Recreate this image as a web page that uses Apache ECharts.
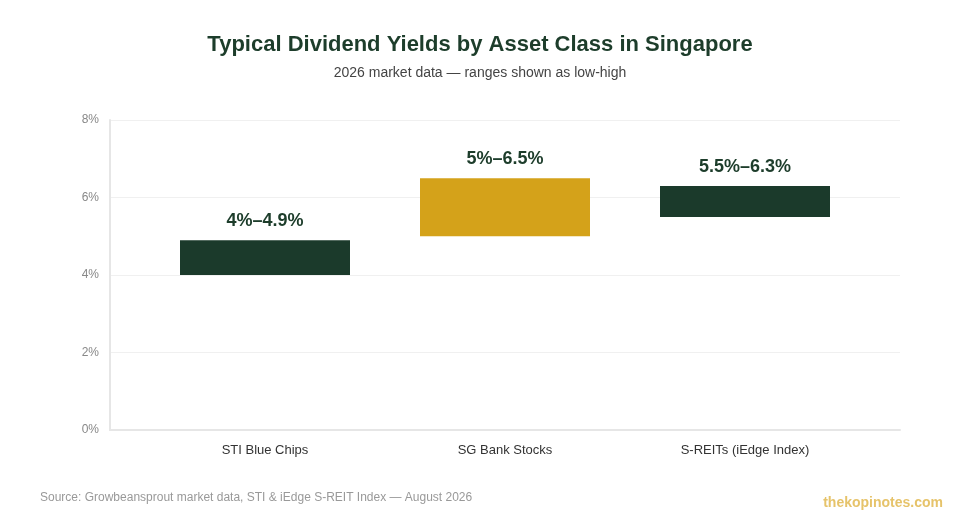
<!DOCTYPE html>
<html><head><meta charset="utf-8">
<script src="https://cdn.jsdelivr.net/npm/echarts@6/dist/echarts.min.js"></script>
<style>html,body{margin:0;padding:0;background:#fff}#c{width:960px;height:520px}</style>
</head><body><div id="c"></div>
<script>
var categories = ['STI Blue Chips', 'SG Bank Stocks', 'S-REITs (iEdge Index)'];
var lows = [4, 5, 5.5];
var highs = [4.9, 6.5, 6.3];
var labels = ['4%\u20134.9%', '5%\u20136.5%', '5.5%\u20136.3%'];
var barColors = ['#1b3a2b', '#d4a21a', '#1b3a2b'];
var yTicks = [0, 2, 4, 6, 8];

var chart = echarts.init(document.getElementById('c'), null, {renderer: 'canvas'});
var font = 'Liberation Sans, Arial, Helvetica, sans-serif';
chart.setOption({
  backgroundColor: '#fff',
  textStyle: {fontFamily: font},
  title: [
    {text: 'Typical Dividend Yields by Asset Class in Singapore', left: 'center', top: 29,
     textStyle: {fontSize: 22, fontWeight: 'bold', color: '#1d3d2b', fontFamily: font}},
    {text: '2026 market data \u2014 ranges shown as low-high', left: 'center', top: 61,
     textStyle: {fontSize: 14, fontWeight: 'normal', color: '#444', fontFamily: font}},
    {text: 'Source: Growbeansprout market data, STI & iEdge S-REIT Index \u2014 August 2026', left: 35, top: 487,
     textStyle: {fontSize: 12, fontWeight: 'normal', color: '#999', fontFamily: font}},
    {text: 'thekopinotes.com', right: 12, top: 491,
     textStyle: {fontSize: 14, fontWeight: 'bold', color: '#e6c36a', fontFamily: font}}
  ],
  grid: [
    {left: 110, right: 60, top: 120, bottom: 90},
    {left: 145, right: 95, top: 120, bottom: 90}
  ],
  xAxis: [
    {type: 'value', gridIndex: 0, min: 0, max: 1, axisLabel: {show: false}, splitLine: {show: false},
     axisTick: {show: false}, axisLine: {show: true, lineStyle: {color: '#e6e6e6', width: 2}}},
    {type: 'category', gridIndex: 1, data: categories, axisLine: {show: false}, axisTick: {show: false},
     axisLabel: {color: '#333', fontSize: 13, margin: 14, fontFamily: font}}
  ],
  yAxis: [
    {type: 'value', gridIndex: 0, min: yTicks[0], max: yTicks[yTicks.length - 1], interval: 2,
     axisLine: {show: true, lineStyle: {color: '#e6e6e6', width: 2}}, axisTick: {show: false},
     axisLabel: {color: '#888', fontSize: 12, margin: 11, formatter: '{value}%', fontFamily: font},
     splitLine: {show: true, lineStyle: {color: '#f0f0f0', width: 1}}},
    {type: 'value', gridIndex: 1, min: yTicks[0], max: yTicks[yTicks.length - 1], interval: 2,
     show: false, splitLine: {show: false}}
  ],
  series: [
    {type: 'bar', xAxisIndex: 1, yAxisIndex: 1, stack: 'r', barWidth: 170, silent: true,
     itemStyle: {color: 'transparent'}, data: lows},
    {type: 'bar', xAxisIndex: 1, yAxisIndex: 1, stack: 'r', barWidth: 170,
     data: highs.map(function (h, i) {
       return {value: +(h - lows[i]).toFixed(2), itemStyle: {color: barColors[i]}};
     }),
     label: {show: true, position: 'top', distance: 10, color: '#1d3d2b', fontSize: 18, fontWeight: 'bold',
       fontFamily: font, formatter: function (p) { return labels[p.dataIndex]; }}}
  ]
});
</script></body></html>
